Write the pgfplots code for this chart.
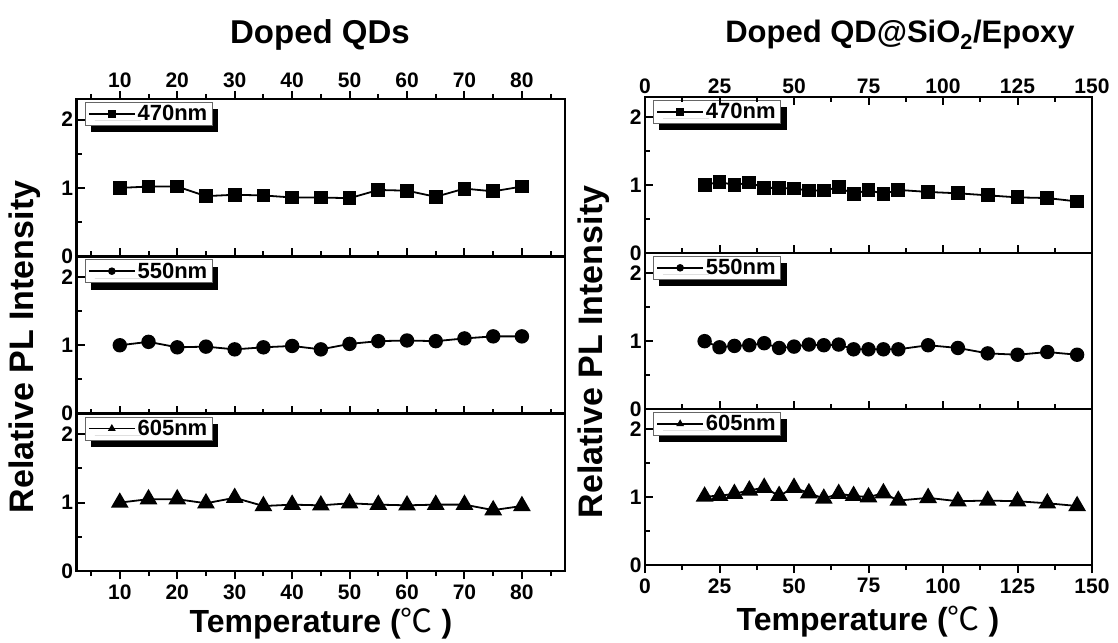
\documentclass[border=0pt]{standalone}
\usepackage{fontspec}
\setmainfont{Liberation Sans}
\newfontfamily\cjk{Noto Sans CJK SC}
\usepackage{pgfplots}
\pgfplotsset{compat=1.18}
\usetikzlibrary{shadows}
\newcommand\tickfont{\fontsize{21}{24}\selectfont\bfseries}
\newcommand\legfont{\fontsize{22}{24}\selectfont\bfseries}
\newcommand\titlefont{\fontsize{33}{38}\selectfont\bfseries}
\newcommand\rtitlefont{\fontsize{31}{36}\selectfont\bfseries}
\newcommand\labfont{\fontsize{32}{36}\selectfont\bfseries}
\newcommand\ylabfont{\fontsize{34}{38}\selectfont\bfseries}
\pgfplotsset{
  base/.style={scale only axis, anchor=south west, ymin=0, ymax=2.3,
    axis line style={-, line width=2.5pt},
    every tick/.style={black, line width=2pt},
    major tick length=8pt, minor tick length=5pt,
    tick label style={font=\tickfont},
    /pgf/number format/assume math mode=true, clip=false},
  main/.style={base, ytick={0,1,2}, minor ytick={0.5,1.5}, ytick pos=left,
    tick align=inside, xtick=\empty,
    legend style={at={(0,1)}, anchor=north west, xshift=8pt, yshift=-3pt,
      draw=black!60, line width=0.8pt, fill=white, font=\legfont,
      inner xsep=3pt, inner ysep=1pt,
      drop shadow={shadow xshift=6pt, shadow yshift=-7pt, fill=black, opacity=1, draw=none}},
    legend image code/.code={\draw[mark repeat=2,mark phase=2,##1,mark size=3pt,line width=1.5pt] plot coordinates {(0pt,0pt)(23pt,0pt)(46pt,0pt)};}},
  L/.style={xmin=2.5, xmax=87.5, width=488.3pt, height=157.33pt},
  R/.style={xmin=0, xmax=150, width=447pt, height=156pt},
  Lx/.style={xtick={10,20,...,80}, minor xtick={5,15,...,85}},
  Rx/.style={xtick={0,25,...,150}, minor xtick={12.5,37.5,...,137.5}},
  xover/.style={base, axis y line=none, ytick=\empty},
  sq/.style={black, line width=1.8pt, mark=square*, mark size=6pt, mark options={solid}},
  ci/.style={black, line width=1.8pt, mark=*, mark size=6.3pt, mark options={solid}},
  tr/.style={black, line width=1.8pt, mark=triangle*, mark size=8.5pt, mark options={solid}},
}
\begin{document}
\begin{tikzpicture}
\path[use as bounding box] (0pt,0pt) rectangle (1118pt,642pt);
% ---------------- LEFT ----------------
\begin{axis}[main, L, at={(76.7pt,385.67pt)}]
\addplot[sq] coordinates {(10,1.00)(15,1.02)(20,1.02)(25,0.88)(30,0.90)(35,0.89)(40,0.86)(45,0.86)(50,0.85)(55,0.97)(60,0.96)(65,0.87)(70,0.99)(75,0.95)(80,1.02)};
\addlegendentry{470nm}
\end{axis}
\begin{axis}[xover, L, Lx, at={(76.7pt,385.67pt)}, axis x line*=top, tick align=outside, xticklabel pos=upper]
\end{axis}
\begin{axis}[xover, L, Lx, at={(76.7pt,385.67pt)}, axis x line*=bottom, tick align=inside, xticklabels={}]
\end{axis}
\begin{axis}[main, L, at={(76.7pt,228.33pt)}]
\addplot[ci] coordinates {(10,1.00)(15,1.05)(20,0.97)(25,0.98)(30,0.94)(35,0.97)(40,0.99)(45,0.94)(50,1.02)(55,1.06)(60,1.07)(65,1.06)(70,1.10)(75,1.13)(80,1.13)};
\addlegendentry{550nm}
\end{axis}
\begin{axis}[xover, L, Lx, at={(76.7pt,228.33pt)}, axis x line*=bottom, tick align=inside, xticklabels={}]
\end{axis}
\begin{axis}[main, L, at={(76.7pt,71pt)}]
\addplot[tr] coordinates {(10,1.00)(15,1.05)(20,1.05)(25,0.99)(30,1.07)(35,0.95)(40,0.97)(45,0.96)(50,0.99)(55,0.97)(60,0.96)(65,0.97)(70,0.97)(75,0.89)(80,0.95)};
\addlegendentry{605nm}
\end{axis}
\begin{axis}[xover, L, Lx, at={(76.7pt,71pt)}, axis x line*=bottom, tick align=outside, xticklabel style={yshift=-2pt}]
\end{axis}
% ---------------- RIGHT ----------------
\begin{axis}[main, R, at={(645pt,389pt)}]
\addplot[sq] coordinates {(20,1.00)(25,1.05)(30,1.00)(35,1.04)(40,0.96)(45,0.96)(50,0.95)(55,0.92)(60,0.92)(65,0.97)(70,0.87)(75,0.93)(80,0.87)(85,0.93)(95,0.90)(105,0.88)(115,0.85)(125,0.82)(135,0.81)(145,0.76)};
\addlegendentry{470nm}
\end{axis}
\begin{axis}[xover, R, Rx, at={(645pt,389pt)}, axis x line*=top, tick align=inside, xticklabel pos=upper]
\end{axis}
\begin{axis}[xover, R, Rx, at={(645pt,389pt)}, axis x line*=bottom, tick align=inside, xticklabels={}]
\end{axis}
\begin{axis}[main, R, at={(645pt,233pt)}]
\addplot[ci] coordinates {(20,1.00)(25,0.91)(30,0.93)(35,0.94)(40,0.97)(45,0.90)(50,0.92)(55,0.95)(60,0.94)(65,0.95)(70,0.88)(75,0.88)(80,0.88)(85,0.88)(95,0.94)(105,0.90)(115,0.82)(125,0.80)(135,0.84)(145,0.80)};
\addlegendentry{550nm}
\end{axis}
\begin{axis}[xover, R, Rx, at={(645pt,233pt)}, axis x line*=bottom, tick align=inside, xticklabels={}]
\end{axis}
\begin{axis}[main, R, at={(645pt,77pt)}]
\addplot[tr] coordinates {(20,1.01)(25,1.02)(30,1.05)(35,1.10)(40,1.14)(45,1.02)(50,1.14)(55,1.06)(60,0.98)(65,1.05)(70,1.02)(75,1.00)(80,1.06)(85,0.95)(95,0.99)(105,0.94)(115,0.95)(125,0.94)(135,0.91)(145,0.87)};
\addlegendentry{605nm}
\end{axis}
\begin{axis}[xover, R, Rx, at={(645pt,77pt)}, axis x line*=bottom, tick align=outside, xticklabel style={yshift=-2pt}]
\end{axis}
% ---------------- TEXT ----------------
\node[font=\titlefont] at (320pt,607pt) {Doped QDs};
\node[font=\rtitlefont] at (900pt,607pt) {Doped QD@SiO\textsubscript{2}/Epoxy};
\node[font=\ylabfont, rotate=90] at (25pt,295pt) {Relative PL Intensity};
\node[font=\ylabfont, rotate=90] at (594pt,290pt) {Relative PL Intensity};
\node[font=\labfont] at (321pt,18pt) {Temperature ({\cjk\mdseries ℃} )};
\node[font=\labfont] at (868pt,20pt) {Temperature ({\cjk\mdseries ℃} )};
\end{tikzpicture}
\end{document}
